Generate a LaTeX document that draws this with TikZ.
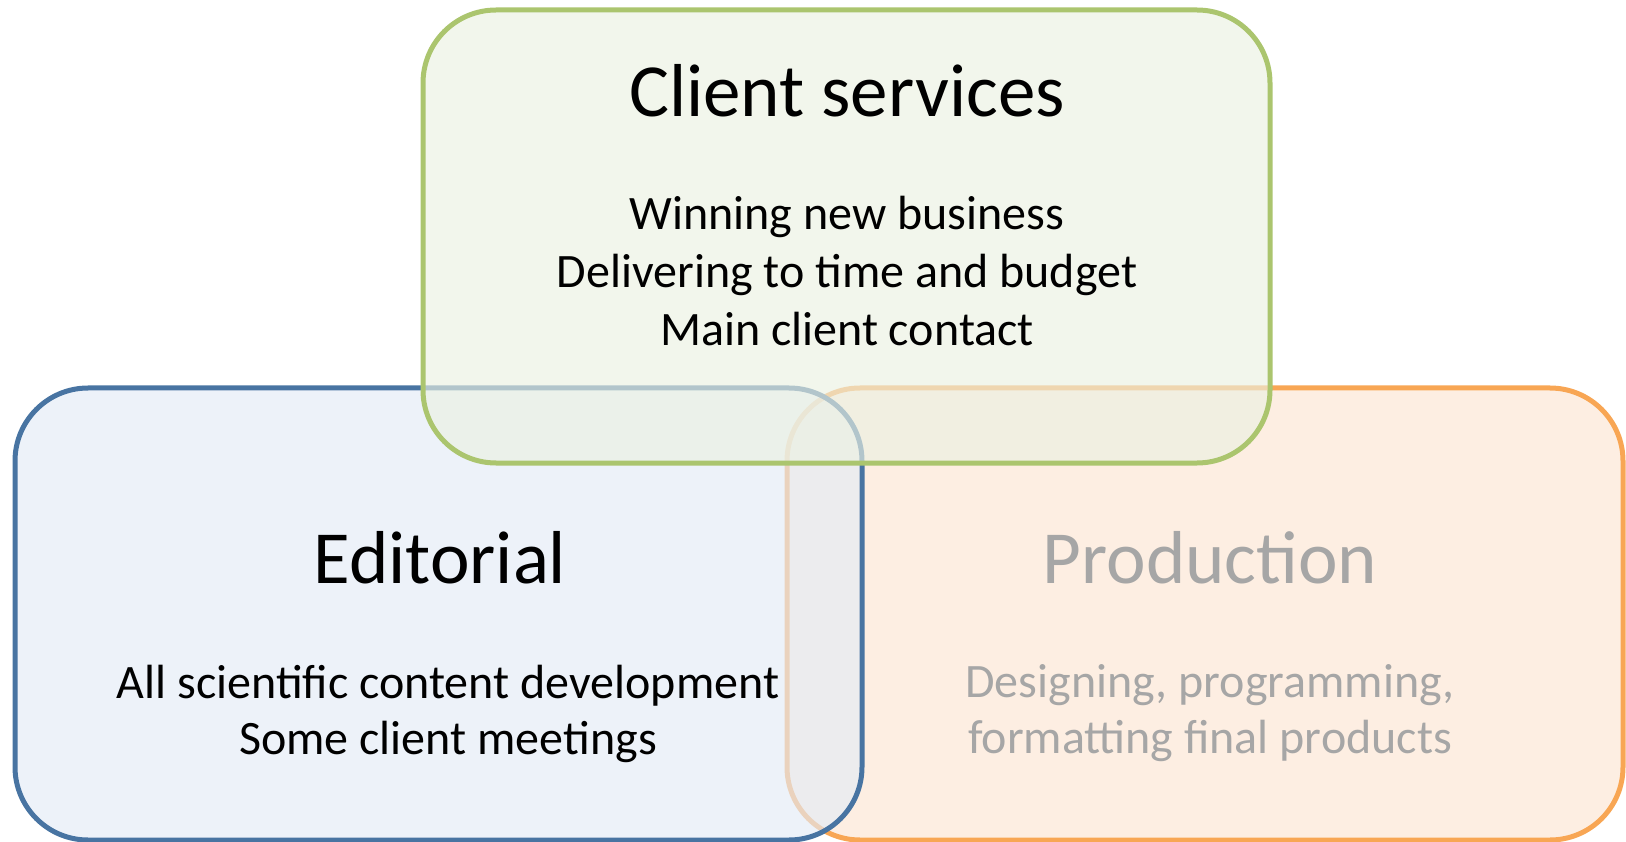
\documentclass[tikz,border=0pt]{standalone}
\usepackage{fontspec}
\setmainfont{Carlito}
\usepackage{xcolor}
\usetikzlibrary{positioning}
\definecolor{csline}{RGB}{171,197,110}
\definecolor{csfill}{RGB}{235,241,226}
\definecolor{edline}{RGB}{72,116,162}
\definecolor{edfill}{RGB}{227,235,246}
\definecolor{prline}{RGB}{248,166,84}
\definecolor{prfill}{RGB}{252,229,210}
\definecolor{prtext}{RGB}{166,166,166}
\tikzset{%
	area/.style     = {draw, rectangle, rounded corners=73pt, line width=5pt, fill opacity=0.65, minimum width=847pt, minimum height=453pt}, % team box
	head/.style     = {anchor=base, font=\fontsize{75}{90}\selectfont}, % team name
	duty/.style     = {anchor=base, font=\fontsize{48}{57}\selectfont}, % one task line
}

\begin{document}
\begin{tikzpicture}[x=1pt,y=-1pt]
	\useasboundingbox (0,0) rectangle (1626,842);

	% the three teams
	\node [area, draw=prline, fill=prfill, minimum width=836pt, minimum height=452pt] (prod) at (1205,614) {};
	\node [area, draw=edline, fill=edfill, minimum height=452pt] (edit) at (438.5,614) {};
	\node [area, draw=csline, fill=csfill] (client) at (846.5,236.5) {};

	% client services
	\node [head] (cshead) at (847,117) {Client services};
	\node [duty] (cs1) at (847,230) {Winning new business};
	\node [duty] (cs2) [below=58pt of cs1.base, anchor=base] {Delivering to time and budget};
	\node [duty] (cs3) [below=58pt of cs2.base, anchor=base] {Main client contact};

	% editorial
	\node [head] (edhead) at (440,583) {Editorial};
	\node [duty] (ed1) at (448,698) {All scientific content development};
	\node [duty] (ed2) [below=56pt of ed1.base, anchor=base] {Some client meetings};

	% production
	\node [head, text=prtext] (prhead) at (1210,583) {Production};
	\node [duty, text=prtext] (pr1) at (1210,697) {Designing, programming,};
	\node [duty, text=prtext] (pr2) [below=56pt of pr1.base, anchor=base] {formatting final products};
\end{tikzpicture}
\end{document}
